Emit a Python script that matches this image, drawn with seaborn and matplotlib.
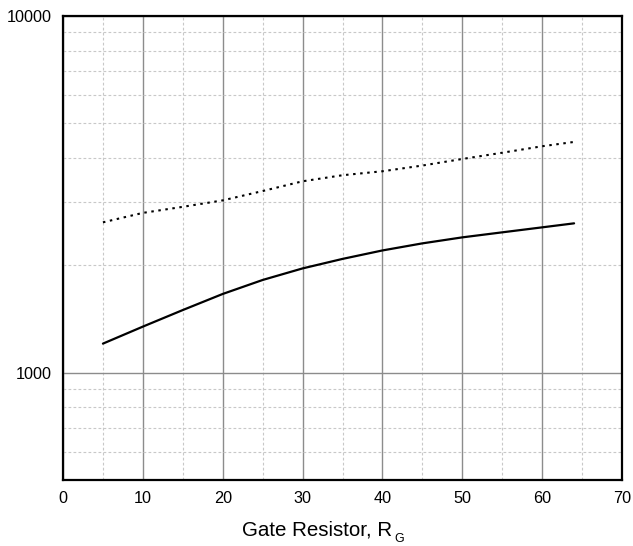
import matplotlib
matplotlib.use("Agg")
import matplotlib.pyplot as plt
import seaborn as sns
import numpy as np
import pandas as pd
from matplotlib.ticker import FixedLocator, NullFormatter, FixedFormatter

# Data
rg = [5, 10, 15, 20, 25, 30, 35, 40, 45, 50, 55, 60, 64]
solid_vals = [1206, 1346, 1498, 1662, 1819, 1960, 2084, 2201, 2304, 2395, 2474, 2555, 2622]
dotted_vals = [2639, 2805, 2917, 3041, 3230, 3440, 3577, 3670, 3808, 3973, 4136, 4313, 4435]

x_ticks = [0, 10, 20, 30, 40, 50, 60, 70]
y_ticks = [1000, 10000]
y_tick_labels = ["1000", "10000"]

df = pd.DataFrame({"rg": rg, "solid": solid_vals, "dotted": dotted_vals})

sns.set_style("white")
plt.rcParams["font.family"] = ["Liberation Sans", "DejaVu Sans"]
plt.rcParams["text.color"] = "black"
plt.rcParams["xtick.color"] = "black"
plt.rcParams["ytick.color"] = "black"
plt.rcParams["axes.labelcolor"] = "black"

fig = plt.figure(figsize=(6.33, 5.46), dpi=100)
ax = fig.add_axes([63/633, 1 - 480/546, (622-63)/633, (480-16)/546])

ax.set_yscale("log")
ax.set_xlim(0, 70)
ax.set_ylim(500, 10000)

# grids
ax.xaxis.set_major_locator(FixedLocator(x_ticks))
ax.xaxis.set_minor_locator(FixedLocator([5, 15, 25, 35, 45, 55, 65]))
ax.yaxis.set_major_locator(FixedLocator(y_ticks))
ax.yaxis.set_major_formatter(FixedFormatter(y_tick_labels))
ax.yaxis.set_minor_locator(FixedLocator([600, 700, 800, 900] + list(range(2000, 10000, 1000))))
ax.yaxis.set_minor_formatter(NullFormatter())
ax.grid(which="major", color="#8c8c8c", linestyle="-", linewidth=1.0)
ax.grid(which="minor", color="#c8c8c8", linestyle=(0, (2.5, 2)), linewidth=0.8)
ax.set_axisbelow(True)

sns.lineplot(data=df, x="rg", y="solid", ax=ax, color="black", linewidth=1.6)
sns.lineplot(data=df, x="rg", y="dotted", ax=ax, color="black", linewidth=1.5,
             linestyle=(0, (1.2, 2.2)))

for s in ax.spines.values():
    s.set_visible(True)
    s.set_color("black")
    s.set_linewidth(1.6)

ax.tick_params(which="both", length=0, labelsize=11.7, pad=8, colors="black")
ax.set_xlabel("")
ax.set_ylabel("")
fig.text(242/633, 1 - 536/546, "Gate Resistor, R", fontsize=14.8,
         ha="left", va="baseline", color="black")
fig.text(394/633, 1 - 542/546, "G", fontsize=9,
         ha="left", va="baseline", color="black")

fig.savefig("out.png", dpi=100)
